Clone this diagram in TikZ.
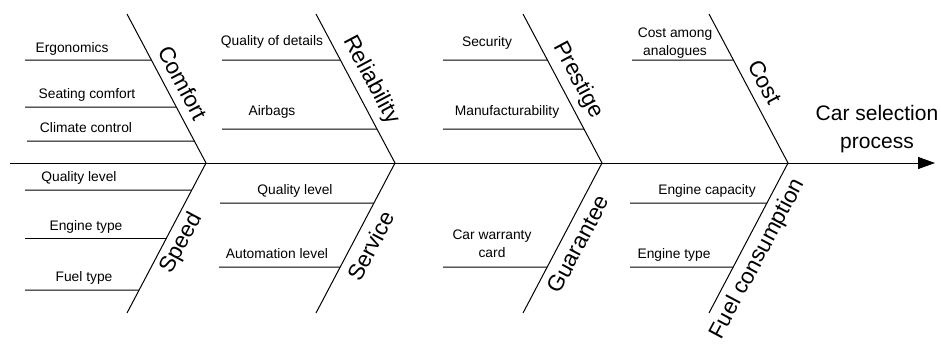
\documentclass[tikz,border=0pt]{standalone}
\usepackage{fontspec}
\setmainfont{Liberation Sans}
\usetikzlibrary{calc,arrows.meta}

\begin{document}
\begin{tikzpicture}[x=1pt,y=-1pt,
    bone/.style={line width=1pt},
    cause/.style={font=\fontsize{13.8}{18}\selectfont, align=center, inner sep=0pt},
    group/.style={font=\fontsize{22.5}{27}\selectfont, align=center, inner sep=0pt}]
    \useasboundingbox (0,0) rectangle (941,343);
    % spine
    \coordinate (tail) at (10,163);
    \coordinate (head) at (935,163);
    \draw[bone,-{Triangle[length=17pt,width=12pt]}] (tail) -- (head);
    \node[group, font=\fontsize{21}{28}\selectfont] (goal) at (877,129) {Car selection\\process};
    % bones
    \foreach \i/\j in {1/206,2/395,3/602,4/788}{
      \coordinate (j\i) at (\j,163);
      \coordinate (t\i) at (\j-79,14);
      \coordinate (b\i) at (\j-79,313);
      \draw[bone] (t\i) -- (j\i) -- (b\i);
    }
    \foreach \i/\x/\y/\txt in {1/183/83/Comfort, 2/371/80/Reliability, 3/578/80/Prestige, 4/765/82/Cost}
      \node[group, rotate=-62] (up\i) at (\x,\y) {\txt};
    \foreach \i/\x/\y/\txt in {1/182/243/Speed, 2/371/246/Service, 3/578/244/Guarantee, 4/758/259/Fuel consumption}
      \node[group, rotate=62] (lo\i) at (\x,\y) {\txt};
    % causes above the spine
    \foreach \n/\i/\x/\y/\lx/\ly/\txt in {
        a/1/25/60/72/49/Ergonomics, b/1/25/107/87/95/Seating comfort,
        c/1/27/141/86/128/Climate control, d/2/222/60/272/42/Quality of details,
        e/2/222/129/272/112/Airbags, f/3/443/60/487/43/Security,
        g/3/443/129/507/112/Manufacturability, h/4/632/60/675/43/{Cost among\\analogues}}{
      \pgfmathsetmacro\f{(163-\y)/149}
      \coordinate (s\n) at (\x,\y);
      \coordinate (e\n) at ($(j\i)!\f!(t\i)$);
      \draw[bone] (s\n) -- (e\n);
      \node[cause] (c\n) at (\lx,\ly) {\txt};
    }
    % causes below the spine
    \foreach \n/\i/\x/\y/\lx/\ly/\txt in {
        k/1/25/190/79/178/Quality level, l/1/25/238/86/227/Engine type,
        m/1/25/290/84/278/Fuel type, p/2/220/203/295/191/Quality level,
        q/2/219/267/277/254/Automation level, r/3/443/267/492/244/{Car warranty\\card},
        u/4/630/203/707/191/Engine capacity, v/4/630/267/674/255/Engine type}{
      \pgfmathsetmacro\f{(\y-163)/150}
      \coordinate (s\n) at (\x,\y);
      \coordinate (e\n) at ($(j\i)!\f!(b\i)$);
      \draw[bone] (s\n) -- (e\n);
      \node[cause] (c\n) at (\lx,\ly) {\txt};
    }
\end{tikzpicture}
\end{document}
